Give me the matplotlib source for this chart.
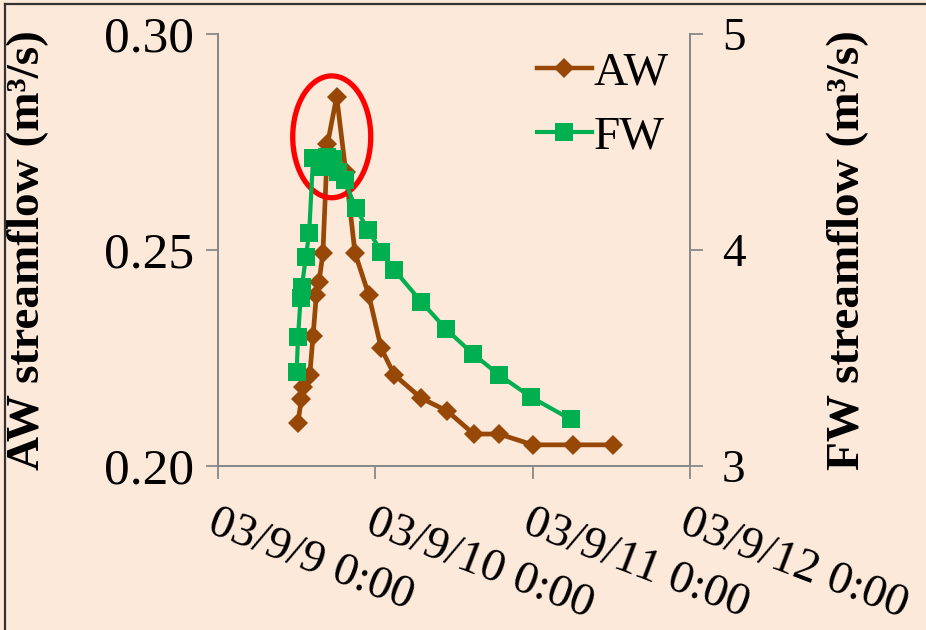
import matplotlib
matplotlib.use("Agg")
import matplotlib.pyplot as plt
import matplotlib.transforms as mtransforms
from matplotlib.patches import Ellipse
from matplotlib.lines import Line2D

# Hours after 03/9/9 0:00
aw_hours = [12.2, 12.7, 13.0, 14.0, 14.5, 15.0, 15.4, 16.0, 16.7, 18.1, 19.5, 20.9,
            23.0, 24.9, 26.9, 31.0, 35.0, 39.0, 42.9, 48.0, 54.1, 60.2]
aw_flow = [0.2100, 0.2154, 0.2184, 0.2211, 0.2301, 0.2396, 0.2425, 0.2492, 0.2745,
           0.2855, 0.2680, 0.2493, 0.2396, 0.2272, 0.2211, 0.2157, 0.2127, 0.2074,
           0.2074, 0.2049, 0.2049, 0.2049]

fw_hours = [12.0, 12.2, 12.6, 12.8, 13.4, 13.9, 14.5, 15.5, 16.6, 17.5, 18.3, 19.3,
            21.0, 22.9, 24.9, 26.9, 31.0, 34.8, 38.9, 42.9, 47.8, 53.8]
fw_flow = [3.437, 3.596, 3.776, 3.830, 3.969, 4.077, 4.426, 4.384, 4.431, 4.421,
           4.361, 4.324, 4.194, 4.093, 3.992, 3.907, 3.761, 3.633, 3.519, 3.421,
           3.318, 3.216]

x_ticks = [0, 24, 48, 72]
x_labels = ["03/9/9 0:00", "03/9/10 0:00", "03/9/11 0:00", "03/9/12 0:00"]
left_ticks = [0.20, 0.25, 0.30]
left_labels = ["0.20", "0.25", "0.30"]
right_ticks = [3, 4, 5]
right_labels = ["3", "4", "5"]

BG = "#FDE9D9"
BROWN = "#974706"
GREEN = "#00B050"
SPINE = "#898989"
FONT = "Liberation Serif"
FS = 34

plt.rcParams["font.family"] = [FONT, "DejaVu Serif"]

fig = plt.figure(figsize=(9.26, 6.30), dpi=100, facecolor=BG)
ax = fig.add_axes([218/926, 1-466/630, (690-218)/926, (466-34)/630])
ax.set_facecolor(BG)
ax2 = ax.twinx()

ax.plot(aw_hours, aw_flow, color=BROWN, lw=3.4, marker="D", markersize=10.5,
        markeredgewidth=0, zorder=3)
ax2.plot(fw_hours, fw_flow, color=GREEN, lw=3.0, marker="s", markersize=13.5,
         markeredgewidth=0, zorder=2)

ax.set_xlim(0, 72)
ax.set_ylim(0.20, 0.30)
ax2.set_ylim(3, 5)

ax.set_yticks(left_ticks)
ax.set_yticklabels(left_labels, fontsize=37)
ax2.set_yticks(right_ticks)
ax2.set_yticklabels(right_labels, fontsize=FS)
ax.set_xticks(x_ticks)
ax.set_xticklabels(x_labels, fontsize=34, rotation=-21, ha="left", va="top",
                   rotation_mode="anchor")
shift = mtransforms.ScaledTranslation(8/100, 0, fig.dpi_scale_trans)
for lbl in ax.get_xticklabels():
    lbl.set_transform(lbl.get_transform() + shift)

for a in (ax, ax2):
    a.spines["top"].set_visible(False)
    for s in ("left", "right", "bottom"):
        a.spines[s].set_color(SPINE)
        a.spines[s].set_linewidth(1.3)
    a.tick_params(axis="both", direction="out", length=9, width=1.3, color=SPINE,
                  labelcolor="black")
ax.tick_params(axis="x", pad=17)
ax.tick_params(axis="y", pad=8)
ax2.tick_params(axis="y", pad=14)

ax.set_ylabel("AW streamflow (m³/s)", fontsize=FS, fontweight="bold")
ax2.set_ylabel("FW streamflow (m³/s)", fontsize=FS, fontweight="bold")
ax.yaxis.set_label_coords(-169/472, 0.5)
ax2.yaxis.set_label_coords(1 + 137/472, 0.5)

ell = Ellipse((17.35, 0.2762), width=11.9, height=0.0282, fill=False,
              edgecolor="#FF0000", lw=3.8, zorder=5)
ax.add_patch(ell)

handles = [Line2D([], [], color=BROWN, lw=3.2, marker="D", markersize=10.5, markeredgewidth=0),
           Line2D([], [], color=GREEN, lw=3.0, marker="s", markersize=13.5, markeredgewidth=0)]
ax.legend(handles, ["AW", "FW"], loc="upper right", bbox_to_anchor=(1.046, 1.058),
          frameon=False, fontsize=FS, handlelength=1.15, handletextpad=0.05,
          labelspacing=0.45)

# figure border (top and left visible)
fig.add_artist(Line2D([5/926, 5/926], [0, 1-4/630], transform=fig.transFigure,
                      color="#333333", lw=1.6))
fig.add_artist(Line2D([5/926, 1], [1-4/630, 1-4/630], transform=fig.transFigure,
                      color="#333333", lw=1.6))

fig.savefig("out.png", dpi=100, facecolor=BG)
